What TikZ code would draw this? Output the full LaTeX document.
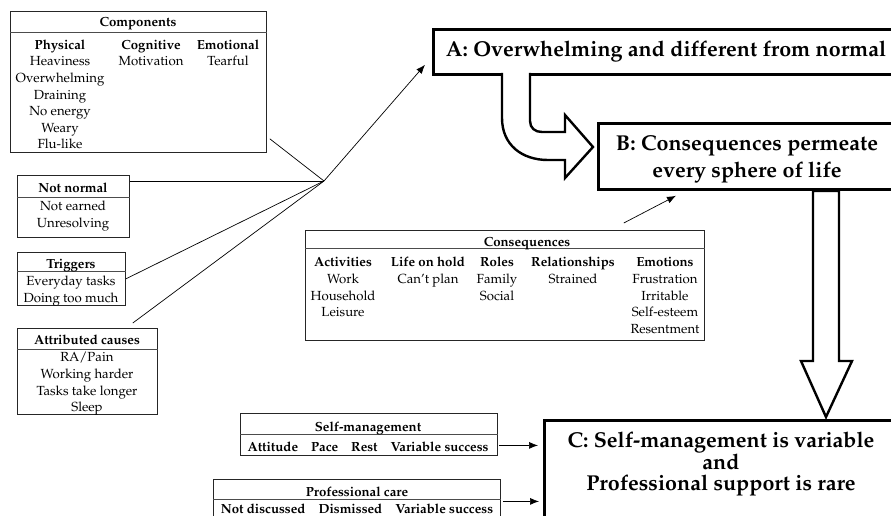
\documentclass[tikz,border=0pt]{standalone}
\usepackage[T1]{fontenc}
\usepackage{mathpazo}
\usetikzlibrary{arrows.meta,calc}
\newcommand\bodyfont{\fontsize{13.2}{16.6}\selectfont}
\newcommand\bigfontB{\fontsize{21.5}{27}\selectfont}
\newcommand\bigfontC{\fontsize{21.5}{21.5}\selectfont}
\newcommand\bigstrut{\rule{0pt}{16pt}}
\newcommand\topstrut{\rule{0pt}{11.41pt}}
\begin{document}
\begin{tikzpicture}[x=1pt,y=-1pt,
  every node/.style={inner sep=0pt},
  tbox/.style={draw=black!85, line width=0.8pt, anchor=north west},
  hline/.style={draw=black!70, line width=0.8pt},
  cell/.style={align=center, anchor=north, font=\bodyfont},
  bigbox/.style={draw, line width=2.8pt, anchor=north west},
  bigtext/.style={align=center, anchor=north},
  conn/.style={line width=0.7pt},
  arr/.style={conn, -{Latex[length=9pt,width=7pt]}},
  hollow/.style={draw, line width=2.4pt, fill=white, line join=miter}]
\useasboundingbox (0,0) rectangle (891,516);
\clip (0,0) rectangle (891,516);

% ---------- Components ----------
\node[tbox, minimum width=256pt, minimum height=141pt] (comp) at (10,11) {};
\draw[hline] ([yshift=-21pt]comp.north west) -- ([yshift=-21pt]comp.north east);
\node[cell] (compT) at (138,15.1) {\strut\textbf{Components}};
\node[cell] (phys) at (60,37.4) {\strut\textbf{Physical}\\Heaviness\\Overwhelming\\Draining\\No energy\\Weary\\Flu-like};
\node[cell] (cogn) at (151,37.4) {\strut\textbf{Cognitive}\\Motivation};
\node[cell] (emot) at (228,37.4) {\strut\textbf{Emotional}\\Tearful};

% ---------- Not normal ----------
\node[tbox, minimum width=112pt, minimum height=62pt] (nn) at (17,175) {};
\draw[hline] ([yshift=-22pt]nn.north west) -- ([yshift=-22pt]nn.north east);
\node[cell] (nnT) at (73,181.1) {\strut\textbf{Not normal}};
\node[cell] (nnB) at (73,199.1) {\strut Not earned\\Unresolving};

% ---------- Triggers ----------
\node[tbox, minimum width=108pt, minimum height=53pt] (trig) at (17,252) {};
\draw[hline] ([yshift=-19pt]trig.north west) -- ([yshift=-19pt]trig.north east);
\node[cell] (trigT) at (71,257.1) {\strut\textbf{Triggers}};
\node[cell] (trigB) at (71,274.1) {\strut Everyday tasks\\Doing too much};

% ---------- Attributed causes ----------
\node[tbox, minimum width=140pt, minimum height=86pt] (attr) at (17,328) {};
\draw[hline] ([yshift=-21pt]attr.north west) -- ([yshift=-21pt]attr.north east);
\node[cell] (attrT) at (87,333.1) {\strut\textbf{Attributed causes}};
\node[cell] (attrB) at (87,350.1) {\strut RA/Pain\\Working harder\\Tasks take longer\\Sleep};

% ---------- Consequences ----------
\node[tbox, minimum width=399pt, minimum height=110pt] (cons) at (305,230) {};
\draw[hline] ([yshift=-18pt]cons.north west) -- ([yshift=-18pt]cons.north east);
\node[cell] (consT) at (527,235.1) {\strut\textbf{Consequences}};
\node[cell] (act) at (343,255.1) {\strut\textbf{Activities}\\Work\\Household\\Leisure};
\node[cell] (hold) at (428,255.1) {\strut\textbf{Life on hold}\\Can't plan};
\node[cell] (roles) at (497,255.1) {\strut\textbf{Roles}\\Family\\Social};
\node[cell] (rel) at (573,255.1) {\strut\textbf{Relationships}\\Strained};
\node[cell] (emo) at (665,255.1) {\strut\textbf{Emotions}\\Frustration\\Irritable\\Self-esteem\\Resentment};

% ---------- Self-management ----------
\node[tbox, minimum width=257pt, minimum height=42pt] (self) at (240,413) {};
\draw[hline] ([yshift=-21pt]self.north west) -- ([yshift=-21pt]self.north east);
\node[cell] (selfT) at (368,420.1) {\strut\textbf{Self-management}};
\node[cell] (selfB) at (368,440.1) {\strut\textbf{Attitude\hspace{13pt}Pace\hspace{13pt}Rest\hspace{13pt}Variable success}};

% ---------- Professional care ----------
\node[tbox, minimum width=287pt, minimum height=60pt] (prof) at (213,479) {};
\draw[hline] ([yshift=-20pt]prof.north west) -- ([yshift=-20pt]prof.north east);
\node[cell] (profT) at (357,485.1) {\strut\textbf{Professional care}};
\node[cell] (profB) at (357,501.4) {\topstrut\textbf{Not discussed\hspace{13pt}Dismissed\hspace{13pt}Variable success}};

% ---------- Big boxes ----------
\node[bigbox, minimum width=470pt, minimum height=45pt] (A) at (432,28) {};
\node[bigtext, font=\bfseries\bigfontB] (At) at (666,40) {\bigstrut A: Overwhelming and different from normal};
\node[bigbox, minimum width=305pt, minimum height=66pt] (B) at (597,122) {};
\node[bigtext, font=\bfseries\bigfontB] (Bt) at (747,134.5) {\bigstrut B: Consequences permeate\\every sphere of life};
\node[bigbox, minimum width=360pt, minimum height=130pt] (C) at (543,419) {};
\node[bigtext, font=\bfseries\bigfontC] (Ct) at (721,431.5) {\bigstrut C: Self-management is variable\\and\\Professional support is rare};

% ---------- hollow arrows ----------
\draw[hollow] (502,73) -- (502,118) .. controls (502,145) and (522,160) .. (548,160)
  -- (565,160) -- (565,178) -- (593,147) -- (565,115) -- (565,132) -- (542,132)
  .. controls (535,132) and (530,128) .. (530,121) -- (530,73);
\draw[hollow] (813,191) -- (813,361) -- (801,361) -- (826,417) -- (852,361)
  -- (839,361) -- (839,191) -- cycle;

% ---------- connectors ----------
\coordinate (hub) at (324,181);
\draw[conn] ([xshift=3pt,yshift=14pt]comp.south east) -- (hub);
\draw[conn] ([yshift=-6pt]nn.north east) -- (hub);
\draw[conn] (trig.east) -- (hub);
\draw[conn] ([xshift=-25pt,yshift=5pt]attr.north east) -- (hub);
\draw[arr] (hub) -- ([xshift=-7pt,yshift=11pt]A.south west);
\draw[arr] ([xshift=-81pt,yshift=7pt]cons.north east) -- ([xshift=79pt,yshift=-5pt]B.south west);
\draw[arr, shorten >=5pt] ([xshift=1pt,yshift=-11pt]self.east) -- ([yshift=-11pt]self.east -| C.west);
\draw[arr, shorten >=4pt] ([xshift=2pt,yshift=8pt]prof.east) -- ([yshift=8pt]prof.east -| C.west);
\end{tikzpicture}
\end{document}
